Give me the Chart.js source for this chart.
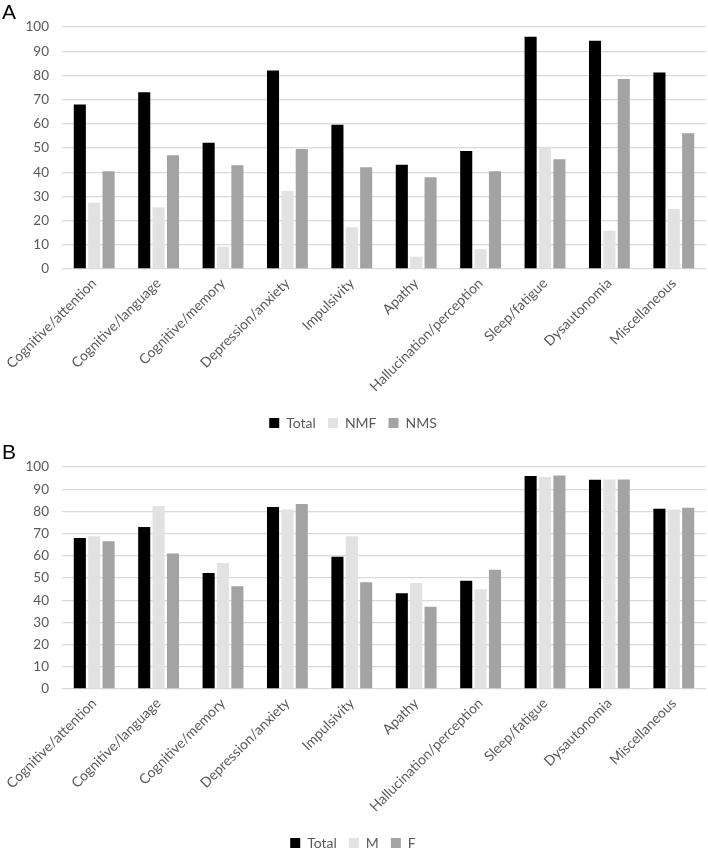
<!DOCTYPE html>
<html>
<head>
<meta charset="utf-8">
<script src="https://cdn.jsdelivr.net/npm/chart.js@4.4.0/dist/chart.umd.min.js"></script>
<style>
  html, body { margin: 0; padding: 0; background: #fff; }
  body { width: 708px; height: 850px; position: relative; overflow: hidden; }
  .panel { position: absolute; left: 0; width: 708px; }
  .tag { position: absolute; left: 2px; font-family: "Liberation Sans", Arial, sans-serif; font-size: 21px; color: #000; }
</style>
</head>
<body>
<div class="panel" style="top:0;height:440px;"><canvas id="chartA" width="708" height="440"></canvas></div>
<div class="panel" style="top:440px;height:420px;"><canvas id="chartB" width="708" height="420"></canvas></div>
<div class="tag" style="top:0px;">A</div>
<div class="tag" style="top:440px;">B</div>
<script>
const categories = ["Cognitive/attention", "Cognitive/language", "Cognitive/memory", "Depression/anxiety", "Impulsivity", "Apathy", "Hallucination/perception", "Sleep/fatigue", "Dysautonomia", "Miscellaneous"];
const yTicks = [0, 10, 20, 30, 40, 50, 60, 70, 80, 90, 100];

// Panel A
const totalA = [68, 73, 52.2, 82, 59.6, 43.1, 48.8, 96, 94.3, 81.2];
const nmfA   = [27.4, 25.5, 9.2, 32.2, 17.3, 5.1, 8.2, 50.5, 15.8, 24.8];
const nmsA   = [40.4, 47, 42.9, 49.6, 42, 37.9, 40.4, 45.3, 78.5, 56.1];

// Panel B
const totalB = [68, 73, 52.2, 82, 59.6, 43.1, 48.8, 96, 94.3, 81.2];
const maleB  = [68.8, 82.3, 56.8, 80.8, 68.8, 47.8, 44.9, 95.5, 94.4, 80.8];
const femB   = [66.5, 61, 46.3, 83.3, 48.1, 37, 53.7, 96.2, 94.4, 81.6];

const COL_TOTAL = "#000000";
const COL_LIGHT = "#e2e2e2";
const COL_GRAY  = "#a3a3a3";
const TXT = "#595959";
const FONT = "Lato, 'Open Sans', sans-serif";

function makeChart(id, names, series, xHeight, padBottom) {
  const colors = [COL_TOTAL, COL_LIGHT, COL_GRAY];
  return new Chart(document.getElementById(id), {
    type: "bar",
    data: {
      labels: categories,
      datasets: series.map((d, i) => ({
        label: names[i],
        data: d,
        backgroundColor: colors[i],
        borderWidth: 0,
        categoryPercentage: 0.67,
        barPercentage: 0.84
      }))
    },
    options: {
      responsive: false,
      animation: false,
      layout: { padding: { top: 27, left: 0, right: 2, bottom: padBottom } },
      plugins: {
        legend: {
          position: "bottom",
          labels: {
            color: TXT,
            font: { family: FONT, size: 14 },
            boxWidth: 10,
            boxHeight: 10,
            padding: 12
          }
        },
        tooltip: { enabled: false }
      },
      scales: {
        x: {
          grid: { display: false, drawTicks: false },
          border: { display: false },
          ticks: {
            color: TXT,
            font: { family: FONT, size: 14 },
            minRotation: 45,
            maxRotation: 45,
            autoSkip: false,
            padding: 6
          },
          afterFit: (s) => { s.height = xHeight; }
        },
        y: {
          min: 0,
          max: 100,
          afterBuildTicks: (s) => { s.ticks = yTicks.map(v => ({ value: v })); },
          grid: { color: "#d9d9d9", lineWidth: 1.3, drawTicks: false },
          border: { display: false },
          ticks: {
            color: TXT,
            font: { family: FONT, size: 13.5 },
            padding: 13
          },
          afterFit: (s) => { s.width = 62; }
        }
      }
    }
  });
}

makeChart("chartA", ["Total", "NMF", "NMS"], [totalA, nmfA, nmsA], 135, 0);
makeChart("chartB", ["Total", "M", "F"], [totalB, maleB, femB], 135, 0);
</script>
</body>
</html>
